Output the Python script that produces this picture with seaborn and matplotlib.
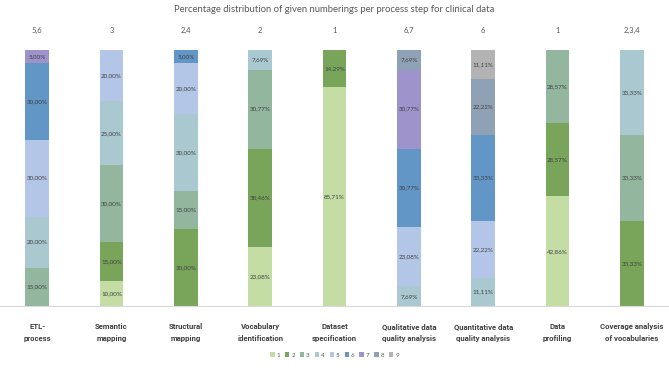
import matplotlib
matplotlib.use("Agg")
import matplotlib.pyplot as plt
import seaborn as sns
import pandas as pd
from matplotlib.patches import Patch
from matplotlib.transforms import blended_transform_factory

steps = ["ETL-\nprocess", "Semantic\nmapping", "Structural\nmapping", "Vocabulary\nidentification",
         "Dataset\nspecification", "Qualitative data\nquality analysis", "Quantitative data\nquality analysis",
         "Data\nprofiling", "Coverage analysis\nof vocabularies"]
top_labels = ["5,6", "3", "2,4", "2", "1", "6,7", "6", "1", "2,3,4"]
numberings = ["1", "2", "3", "4", "5", "6", "7", "8", "9"]

# percentage per numbering (1..9) for each step
etl          = [0, 0, 15.00, 20.00, 30.00, 30.00, 5.00, 0, 0]
semantic     = [10.00, 15.00, 30.00, 25.00, 20.00, 0, 0, 0, 0]
structural   = [0, 30.00, 15.00, 30.00, 20.00, 5.00, 0, 0, 0]
vocabulary   = [23.08, 38.46, 30.77, 7.69, 0, 0, 0, 0, 0]
dataset      = [85.71, 14.29, 0, 0, 0, 0, 0, 0, 0]
qualitative  = [0, 0, 0, 7.69, 23.08, 30.77, 30.77, 7.69, 0]
quantitative = [0, 0, 0, 11.11, 22.22, 33.33, 0, 22.22, 11.11]
profiling    = [42.86, 28.57, 28.57, 0, 0, 0, 0, 0, 0]
coverage     = [0, 33.33, 33.33, 33.33, 0, 0, 0, 0, 0]
values = [etl, semantic, structural, vocabulary, dataset, qualitative, quantitative, profiling, coverage]

colors = ["#C3DDA4", "#78A55A", "#92B69E", "#A9C8D0", "#B3C6E7", "#6196C7", "#9F93CC", "#8FA2B5", "#B3B3B3"]
palette = dict(zip(numberings, colors))

rows = []
for s, vals in zip(steps, values):
    for n, v in zip(numberings, vals):
        rows.append({"step": s, "num": n, "pct": v})
df = pd.DataFrame(rows)

font = ["Lato", "DejaVu Sans"]
plt.rcParams["font.family"] = font

fig = plt.figure(figsize=(6.69, 3.68), dpi=100)
ax = fig.add_axes([0.0, 0.168, 1.0, 0.696])

sns.histplot(data=df, x="step", weights="pct", hue="num", hue_order=numberings[::-1],
             multiple="stack", discrete=True, shrink=0.32, palette=palette,
             linewidth=0, alpha=1, legend=False, ax=ax)

ax.set_xlim(-0.5, len(steps) - 0.5)
ax.set_ylim(0, 100)
ax.set_xlabel("")
ax.set_ylabel("")
ax.set_yticks([])
ax.set_xticks(range(len(steps)))
ax.set_xticklabels(steps, fontsize=5.6, fontweight="bold", color="#404040", linespacing=1.85,
                   family=["Roboto", "DejaVu Sans"])
ax.tick_params(axis="x", length=0, pad=12)
for sp in ["top", "left", "right"]:
    ax.spines[sp].set_visible(False)
ax.spines["bottom"].set_color("#D9D9D9")
ax.spines["bottom"].set_linewidth(0.8)

# segment labels
for i, vals in enumerate(values):
    base = 0
    for v in vals:
        if v > 0:
            ax.text(i, base + v / 2, f"{v:.2f}%".replace(".", ","), ha="center", va="center",
                    fontsize=4.5, color="#404040")
        base += v

trans = blended_transform_factory(ax.transData, ax.transAxes)
for i, t in enumerate(top_labels):
    ax.text(i, 1.078, t, transform=trans, ha="center", va="center", fontsize=5.5, color="#595959")

fig.text(0.5, 0.975, "Percentage distribution of given numberings per process step for clinical data",
         ha="center", va="center", fontsize=6.8, color="#595959")

handles = [Patch(facecolor=c, edgecolor="none", label=n) for n, c in zip(numberings, colors)]
fig.legend(handles=handles, loc="center", bbox_to_anchor=(0.5, 0.035), ncol=9, frameon=False,
           fontsize=4.5, handlelength=0.7, handleheight=0.7, handletextpad=0.3, columnspacing=0.8,
           labelcolor="#595959")

fig.savefig("out.png", dpi=100)
